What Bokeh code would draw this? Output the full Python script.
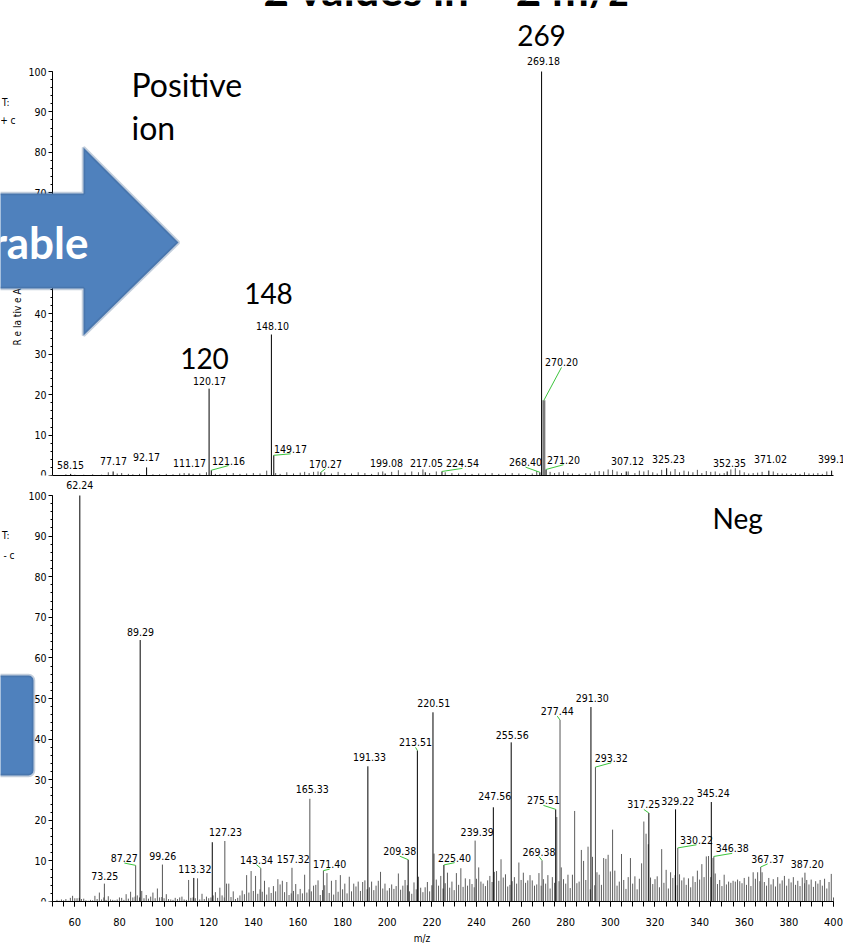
from math import pi
from bokeh.plotting import figure
from bokeh.layouts import column
from bokeh.models import (Range1d, FixedTicker, Label, PolyAnnotation, BoxAnnotation,
                          ColumnDataSource)
from bokeh.core.properties import value
from bokeh.embed import file_html
from bokeh.resources import INLINE

# ---------------- data ----------------
# Positive ion spectrum: labelled peaks (m/z, relative abundance %)
pos_peak_mz = [58.15, 77.17, 92.17, 111.17, 120.17, 121.16, 148.10, 149.17, 170.27, 199.08,
               217.05, 224.54, 268.40, 269.18, 270.20, 271.20, 307.12, 325.23, 352.35, 371.02, 399.16]
pos_peak_int = [0.4, 1.0, 2.0, 0.5, 21.5, 1.3, 34.9, 5.0, 0.8, 0.5,
                0.8, 1.0, 0.8, 100.0, 18.6, 1.5, 1.0, 1.8, 1.0, 1.2, 1.2]
pos_peak_label = ["58.15", "77.17", "92.17", "111.17", "120.17", "121.16", "148.10", "149.17", "170.27",
                  "199.08", "217.05", "224.54", "268.40", "269.18", "270.20", "271.20", "307.12",
                  "325.23", "352.35", "371.02", "399.16"]
pos_label_x = [58.1, 77.3, 92.1, 111.4, 120.4, 128.9, 148.6, 156.7, 172.3, 199.7,
               217.6, 233.7, 262.0, 270.0, 278.1, 279.0, 307.7, 326.1, 353.4, 371.8, 400.5]
pos_label_y = [2.5, 3.5, 4.5, 3.1, 23.5, 3.7, 37.1, 6.6, 2.9, 3.0,
               3.2, 3.0, 3.3, 102.7, 28.0, 3.9, 3.5, 4.1, 3.1, 4.1, 4.1]
pos_leader = [0, 0, 0, 0, 0, 1, 0, 1, 1, 0, 0, 1, 1, 0, 1, 1, 0, 0, 0, 0, 0]

# Positive ion spectrum: small unlabelled peaks
pos_noise_mz = [56, 60, 64, 68, 72, 75, 79, 81, 84, 86, 89, 95, 98, 101, 104, 107, 109, 113, 116, 119,
                123, 125, 128, 131, 134, 137, 140, 143, 146, 150, 152, 155, 158, 161, 163, 165, 167,
                169, 172, 175, 178, 181, 184, 187, 190, 193, 196, 198, 202, 205, 208, 211, 214, 216,
                219, 222, 226, 229, 232, 235, 238, 241, 244, 247, 250, 253, 256, 259, 262, 265, 267,
                273, 275, 277, 279, 281, 283, 286, 289, 291, 293, 295, 297, 299, 301, 303, 305, 308,
                311, 313, 315, 317, 319, 321, 323, 327, 329, 331, 333, 335, 337, 339, 341, 343, 345,
                347, 349, 351, 354, 356, 358, 360, 362, 364, 366, 368, 373, 375, 377, 379, 381, 383,
                385, 387, 389, 391, 393, 395, 397]
pos_noise_int = [0.3, 0.2, 0.2, 0.3, 0.2, 0.8, 0.5, 0.6, 0.4, 0.3, 0.4, 0.3, 0.3, 0.4, 0.3, 0.5, 0.6,
                 0.4, 0.5, 0.8, 0.4, 0.3, 0.5, 0.6, 0.4, 0.5, 0.6, 0.5, 1.2, 0.6, 0.4, 0.8, 0.5, 0.7,
                 0.9, 0.6, 0.9, 1.0, 0.8, 0.5, 0.9, 0.6, 0.5, 0.8, 0.6, 0.4, 0.8, 1.0, 0.9, 1.3, 0.7,
                 1.0, 0.8, 1.5, 0.6, 1.0, 0.8, 0.6, 0.5, 0.6, 0.4, 0.5, 0.5, 0.6, 0.4, 0.5, 0.6, 0.5,
                 0.4, 0.5, 1.1, 0.9, 0.6, 0.8, 1.0, 0.6, 0.5, 0.4, 0.6, 0.5, 1.0, 1.1, 1.0, 1.5, 1.4,
                 1.0, 0.6, 1.0, 0.6, 1.2, 1.0, 1.3, 0.8, 0.5, 1.4, 1.0, 1.6, 0.8, 1.2, 1.0, 0.8, 1.4,
                 0.6, 1.1, 0.9, 1.0, 0.5, 0.6, 1.5, 1.8, 1.3, 0.8, 0.5, 0.6, 0.7, 0.9, 1.0, 0.6, 0.5,
                 0.5, 0.4, 0.6, 0.4, 0.8, 0.5, 0.5, 0.6, 0.4, 1.0]

# Negative ion spectrum: labelled peaks
neg_peak_mz = [62.24, 73.25, 87.27, 89.29, 99.26, 113.32, 127.23, 143.34, 157.32, 165.33, 171.40,
               191.33, 209.38, 213.51, 220.51, 225.40, 239.39, 247.56, 255.56, 269.38, 275.51,
               277.44, 291.30, 293.32, 317.25, 329.22, 330.22, 345.24, 346.38, 367.37, 387.20]
neg_peak_int = [100.0, 4.4, 8.9, 64.4, 9.1, 5.8, 14.9, 8.2, 8.3, 25.3, 7.6,
                33.3, 10.3, 37.2, 46.6, 9.0, 15.0, 23.2, 39.2, 10.1, 22.7,
                44.7, 47.9, 33.1, 21.8, 22.7, 13.2, 24.5, 11.1, 8.5, 7.1]
neg_label_x = [62.2, 73.4, 82.2, 89.4, 99.4, 113.8, 127.5, 141.4, 157.9, 166.4, 174.2,
               192.1, 205.6, 212.7, 220.9, 230.2, 240.3, 248.2, 256.0, 268.0, 270.0,
               276.2, 291.9, 300.4, 315.0, 330.2, 338.6, 346.1, 354.6, 370.5, 388.2]
neg_label_y = [102.5, 6.4, 10.7, 66.4, 11.1, 7.9, 17.1, 10.3, 10.4, 27.7, 9.2,
               35.6, 12.4, 39.2, 48.8, 10.8, 17.1, 25.9, 41.1, 12.3, 24.9,
               46.9, 50.2, 35.4, 23.9, 24.7, 15.2, 26.7, 13.1, 10.5, 9.2]
neg_leader = [0, 0, 1, 0, 0, 0, 0, 1, 0, 0, 1,
              0, 1, 1, 0, 1, 0, 0, 0, 1, 1,
              1, 0, 1, 1, 0, 1, 0, 1, 1, 0]
neg_peak_color = ["#000000", "#555555", "#555555", "#000000", "#555555", "#000000", "#555555",
                  "#555555", "#555555", "#555555", "#555555", "#000000", "#000000", "#000000",
                  "#000000", "#000000", "#555555", "#000000", "#000000", "#555555", "#000000",
                  "#555555", "#000000", "#555555", "#000000", "#000000", "#555555", "#000000",
                  "#555555", "#555555", "#555555"]

# extra unlabelled strong peak
neg_extra_mz = [121.6]
neg_extra_int = [14.6]

# Negative ion spectrum: background peaks, one per nominal m/z from 50 to 400
neg_noise_mz = list(range(50, 401))
neg_noise_int = [
    0.3, 0.0, 0.4, 0.2, 0.5, 0.3, 0.6, 0.2, 0.9, 1.4,
    0.8, 0.8, 0.9, 0.6, 0.7, 0.3, 0.2, 0.4, 0.3, 1.4,
    0.6, 2.2, 0.5, 1.0, 0.4, 1.3, 0.5, 0.4, 0.3, 0.5,
    1.0, 0.9, 0.4, 1.8, 0.7, 2.4, 1.0, 1.2, 1.5, 1.0,
    2.6, 0.8, 1.6, 0.7, 1.2, 2.2, 0.8, 3.2, 1.0, 1.1,
    0.8, 1.8, 0.6, 0.5, 0.4, 0.9, 0.6, 1.0, 1.2, 0.5,
    0.4, 5.3, 0.9, 1.0, 0.8, 5.7, 0.5, 1.9, 0.6, 1.2,
    0.8, 1.0, 1.5, 2.3, 0.9, 3.4, 1.5, 1.0, 4.4, 4.4,
    1.1, 2.5, 0.6, 0.9, 1.5, 2.7, 1.8, 6.5, 2.2, 7.5,
    2.6, 6.3, 1.9, 3.0, 2.4, 5.1, 1.7, 3.5, 2.1, 3.8,
    2.5, 5.5, 4.2, 5.1, 2.3, 4.8, 1.6, 2.0, 2.6, 4.3,
    1.8, 3.1, 2.0, 6.6, 2.2, 3.0, 2.5, 3.9, 4.1, 5.2,
    1.6, 2.8, 4.0, 7.0, 2.1, 5.1, 1.7, 5.3, 2.4, 6.5,
    3.0, 4.4, 2.0, 6.1, 2.5, 4.4, 3.7, 4.9, 2.6, 4.8,
    5.2, 3.0, 3.5, 4.9, 2.8, 3.9, 5.1, 7.3, 3.2, 4.4,
    2.7, 3.3, 4.2, 3.1, 3.8, 6.9, 2.9, 3.9, 5.3, 4.0,
    2.5, 1.9, 4.7, 3.0, 6.1, 3.4, 2.3, 3.5, 4.8, 2.5,
    4.0, 11.8, 5.4, 3.9, 6.3, 3.2, 4.5, 7.1, 3.4, 4.9,
    2.8, 7.0, 4.1, 8.2, 3.6, 5.7, 3.9, 5.5, 4.3, 3.5,
    5.6, 8.4, 4.9, 4.4, 3.8, 5.2, 6.3, 4.8, 7.3, 7.5,
    5.1, 10.4, 5.9, 6.7, 3.7, 4.1, 5.0, 6.0, 4.4, 9.6,
    5.3, 7.1, 4.6, 5.2, 6.5, 5.2, 3.9, 4.2, 7.0, 3.9,
    5.5, 4.4, 6.5, 3.2, 6.0, 4.6, 20.8, 5.0, 8.4, 5.5,
    4.4, 6.6, 3.3, 6.6, 22.3, 4.5, 4.9, 12.7, 10.0, 5.3,
    13.5, 3.0, 11.0, 4.0, 7.2, 6.6, 4.1, 10.7, 10.5, 11.5,
    7.4, 17.7, 7.6, 3.9, 4.9, 11.7, 5.3, 3.1, 6.0, 10.7,
    4.4, 6.2, 3.0, 5.6, 9.4, 19.7, 16.7, 14.1, 5.9, 4.3,
    5.5, 6.2, 3.5, 12.9, 4.6, 7.8, 3.2, 7.2, 5.8, 6.5,
    4.0, 6.7, 5.2, 5.9, 4.1, 5.7, 3.5, 6.2, 4.8, 7.6,
    5.4, 9.2, 6.0, 11.1, 11.2, 6.0, 10.7, 6.9, 4.3, 5.3,
    3.8, 6.6, 4.2, 4.9, 4.6, 5.1, 4.9, 5.4, 5.0, 4.5,
    5.8, 4.1, 6.1, 3.8, 7.2, 5.6, 7.2, 5.0, 7.2, 4.8,
    3.9, 5.8, 4.2, 5.5, 3.7, 6.0, 4.4, 5.2, 6.3, 3.9,
    5.6, 4.7, 6.0, 4.1, 5.1, 3.8, 5.9, 4.5, 5.3, 4.2,
    5.4, 3.6, 5.0, 4.4, 5.3, 3.9, 5.6, 3.2, 4.8, 6.8,
    1.0]

y_ticks = list(range(0, 101, 10))
y_minor = list(range(0, 101, 2))
x_ticks = list(range(60, 401, 20))
x_minor = list(range(50, 401, 5))

# ---------------- layout constants (pixels) ----------------
W = 843
XS = 781 / 350.0              # px per m/z unit (m/z 50 sits at x = 52 px)
X_LO = 50.0 - 52 / XS         # frame starts at the page's left edge
X_HI = 50.0 + 791 / XS
TOP_YS = 4.04                 # px per % (top panel)
BOT_YS = 4.06                 # px per % (bottom panel)


def xd(px):
    return 50.0 + (px - 52) / XS


def yt(py):
    return (475 - py) / TOP_YS


def yb(py):
    return (901 - py) / BOT_YS


NARROW = "DejaVu Sans Condensed"
BIG = "Lato"
LABEL_SIZE = "10.5px"


def style_fig(p):
    p.grid.visible = False
    p.outline_line_color = None
    p.background_fill_color = "white"
    p.border_fill_color = "white"


def style_yaxis(ax):
    ax.ticker = FixedTicker(ticks=y_ticks, minor_ticks=y_minor)
    ax.bounds = (0, 100)
    ax.fixed_location = 50
    ax.axis_line_color = "black"
    ax.major_tick_out = 4
    ax.major_tick_in = 0
    ax.minor_tick_out = 2
    ax.minor_tick_in = 0
    ax.major_tick_line_color = "black"
    ax.minor_tick_line_color = "black"
    ax.major_label_text_font = NARROW
    ax.major_label_text_font_size = "10.5px"
    ax.major_label_text_color = "black"
    ax.major_label_standoff = 2


def small_texts(p, xs, ys, texts, align):
    p.text(x=xs, y=ys, text=texts, text_font=value(NARROW), text_font_size="10px",
           text_align=align, text_baseline="middle", text_color="black")


# ---------------- top (positive ion) ----------------
top = figure(width=W, height=477, x_range=Range1d(X_LO, X_HI), y_range=Range1d(0, 475 / TOP_YS),
             output_backend="svg", toolbar_location=None,
             min_border_left=0, min_border_right=0, min_border_top=0, min_border_bottom=2)
style_fig(top)
style_yaxis(top.yaxis[0])
xa = top.xaxis[0]
xa.ticker = FixedTicker(ticks=[])
xa.bounds = (50, 400)
xa.major_label_text_font_size = "0px"
xa.major_label_standoff = 0
xa.major_tick_out = 0
xa.major_tick_in = 0
xa.minor_tick_out = 0
xa.minor_tick_in = 0
xa.axis_line_color = "black"

# title fragment (cut by page top)
top.text(x=[xd(263)], y=[yt(-12)], text=["2 values in ~ 2 m/z"], text_font=value(BIG),
         text_font_style="bold", text_font_size="44px", text_align="left",
         text_baseline="middle", text_color="black")

top.segment(x0=pos_noise_mz, y0=0, x1=pos_noise_mz, y1=pos_noise_int, line_color="#555555",
            line_width=1)
pos_widths = [3 if m == 270.20 else 1 for m in pos_peak_mz]
pos_colors = ["#7a7a7a" if m == 270.20 else "#000000" for m in pos_peak_mz]
pos_src = ColumnDataSource(dict(mz=pos_peak_mz, h=pos_peak_int, w=pos_widths, c=pos_colors,
                                lx=pos_label_x, ly=pos_label_y, t=pos_peak_label))
top.segment(x0="mz", y0=0, x1="mz", y1="h", line_width="w", line_color="c", source=pos_src)

lead_x0 = [m for m, f in zip(pos_peak_mz, pos_leader) if f]
lead_y0 = [h for h, f in zip(pos_peak_int, pos_leader) if f]
lead_x1 = [x for x, f in zip(pos_label_x, pos_leader) if f]
lead_y1 = [y - 5 / TOP_YS for y, f in zip(pos_label_y, pos_leader) if f]
top.segment(x0=lead_x0, y0=lead_y0, x1=lead_x1, y1=lead_y1, line_color="#3cc43c", line_width=1)

top.text(x="lx", y="ly", text="t", source=pos_src, text_font=value(NARROW),
         text_font_size=LABEL_SIZE, text_align="center", text_baseline="middle",
         text_color="black")

# big annotations
top.text(x=[xd(131), xd(131)], y=[yt(84), yt(127)], text=["Positive", "ion"],
         text_font=value(BIG), text_font_size="32px", text_align="left",
         text_baseline="middle", text_color="black")
top.text(x=[xd(541), xd(268), xd(204)], y=[yt(35), yt(293), yt(358)], text=["269", "148", "120"],
         text_font=value(BIG), text_font_size="28px", text_align="center",
         text_baseline="middle", text_color="black")

# left side texts
small_texts(top, [xd(9)], [yt(102)], ["T:"], "right")
small_texts(top, [xd(15)], [yt(120)], ["+ c"], "right")
top.add_layout(Label(x=xd(17), y=yt(345), text="R e la tiv e   A b u n d a n c e", angle=pi / 2,
                     text_font=NARROW, text_font_size="10px", text_align="left",
                     text_baseline="middle", text_color="black"))

# blue arrow overlay
arrow_px = [(-8, 193), (83, 193), (83, 147), (178, 242), (83, 335), (83, 288), (-8, 288)]
top.add_layout(PolyAnnotation(xs=[xd(a) for a, b in arrow_px], ys=[yt(b) for a, b in arrow_px],
                              xs_units="data", ys_units="data",
                              fill_color="#4F81BD", fill_alpha=1.0,
                              line_color="#385D8A", line_width=3.5))
top.add_layout(Label(x=xd(88), y=yt(241), text="Comparable", text_font=BIG, text_font_style="bold",
                     text_font_size="44px", text_align="right", text_baseline="middle",
                     text_color="white"))

# ---------------- bottom (negative ion) ----------------
bot = figure(width=W, height=473, x_range=Range1d(X_LO, X_HI), y_range=Range1d(0, 424 / BOT_YS),
             output_backend="svg", toolbar_location=None,
             min_border_left=0, min_border_right=0, min_border_top=0, min_border_bottom=49)
style_fig(bot)
style_yaxis(bot.yaxis[0])
bx = bot.xaxis[0]
bx.ticker = FixedTicker(ticks=x_ticks, minor_ticks=x_minor)
bx.bounds = (50, 400)
bx.axis_line_color = "black"
bx.major_tick_out = 5
bx.major_tick_in = 0
bx.minor_tick_out = 5
bx.minor_tick_in = 0
bx.major_tick_line_color = "black"
bx.minor_tick_line_color = "black"
bx.major_label_text_font = NARROW
bx.major_label_text_font_size = "11px"
bx.major_label_text_color = "black"
bx.major_label_standoff = 11
bx.axis_label = "m/z"
bx.axis_label_text_font = NARROW
bx.axis_label_text_font_size = "10px"
bx.axis_label_text_font_style = "normal"
bx.axis_label_text_color = "black"
bx.axis_label_standoff = 4

bot.segment(x0=neg_noise_mz, y0=0, x1=neg_noise_mz, y1=neg_noise_int, line_color="#5e5e5e",
            line_width=1)
bot.segment(x0=neg_extra_mz, y0=0, x1=neg_extra_mz, y1=neg_extra_int, line_color="#000000",
            line_width=1)
neg_src = ColumnDataSource(dict(mz=neg_peak_mz, h=neg_peak_int, c=neg_peak_color,
                                lx=neg_label_x, ly=neg_label_y,
                                t=["%.2f" % m for m in neg_peak_mz]))
bot.segment(x0="mz", y0=0, x1="mz", y1="h", line_color="c", line_width=1, source=neg_src)

nl_x0 = [m for m, f in zip(neg_peak_mz, neg_leader) if f]
nl_y0 = [h for h, f in zip(neg_peak_int, neg_leader) if f]
nl_x1 = [x for x, f in zip(neg_label_x, neg_leader) if f]
nl_y1 = [y - 5 / BOT_YS for y, f in zip(neg_label_y, neg_leader) if f]
bot.segment(x0=nl_x0, y0=nl_y0, x1=nl_x1, y1=nl_y1, line_color="#3cc43c", line_width=1)

bot.text(x="lx", y="ly", text="t", source=neg_src, text_font=value(NARROW),
         text_font_size=LABEL_SIZE, text_align="center", text_baseline="middle",
         text_color="black")

bot.text(x=[xd(712)], y=[yb(517)], text=["Neg"], text_font=value(BIG), text_font_size="28px",
         text_align="left", text_baseline="middle", text_color="black")

small_texts(bot, [xd(9)], [yb(535)], ["T:"], "right")
small_texts(bot, [xd(14)], [yb(555)], ["- c"], "right")

bot.add_layout(BoxAnnotation(left=xd(-12), right=xd(33), top=yb(675), bottom=yb(775),
                             fill_color="#4F81BD", fill_alpha=1.0, line_color="#385D8A",
                             line_width=3.5, border_radius=5))

layout = column(top, bot, spacing=0)
open("out.html", "w").write(file_html(layout, INLINE))
